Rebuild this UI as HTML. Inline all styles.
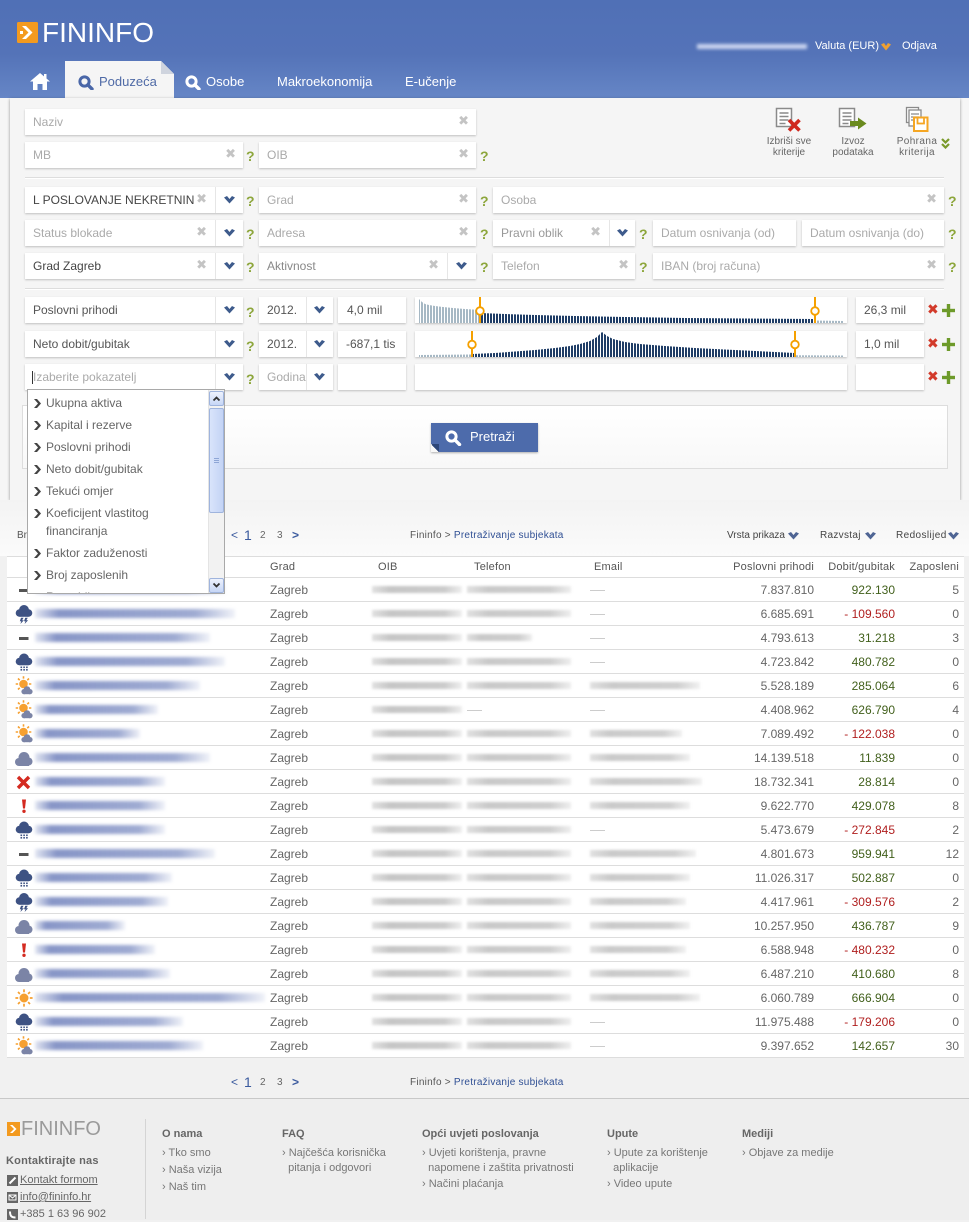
<!DOCTYPE html>
<html><head><meta charset="utf-8">
<style>
*{margin:0;padding:0}
body{width:969px;height:1219px;overflow:hidden;position:relative;background:#f1f1f1;font-family:"Liberation Sans",Arial,sans-serif}
.a{position:absolute}
.t{position:absolute;white-space:nowrap}
.f{position:absolute;height:26px;background:#fff;box-shadow:0 1px 2px rgba(0,0,0,.22);font-size:12px;line-height:27px;color:#aaa;padding-left:8px;box-sizing:border-box;white-space:nowrap;overflow:hidden}
.cx{position:absolute;top:0;font-family:"DejaVu Sans",sans-serif;font-size:13px;color:#c4c4c4;font-weight:bold;line-height:26px}
.dd{position:absolute;right:0;top:0;width:27px;height:26px;border-left:1px solid #e6e6e6;background:#fff}
.dd svg{position:absolute;left:8px;top:9px}
.q{position:absolute;font:bold 14px "Liberation Sans",Arial,sans-serif;color:#8da63c;line-height:20px}
.lbl{position:absolute;font-size:10px;color:#666;line-height:10.5px;text-align:center;white-space:nowrap}
.r{position:absolute;left:7px;width:957px;height:23px;border-bottom:1px solid #ddd;background:#fff;font-size:12px;line-height:24px;color:#666}
.r>*{position:absolute}
.ic{left:8px;top:2px;width:18px;height:20px}
.nm{left:28px;top:7px;height:9px;background:linear-gradient(90deg,rgba(110,130,190,.2),rgba(85,105,175,.7) 12%,rgba(95,115,180,.6) 80%,rgba(110,130,190,.1));filter:blur(1.6px)}
.c{left:263px}
.ob{left:365px;top:8px;width:90px;height:7px;background:linear-gradient(90deg,rgba(180,180,180,.4),#c6c6c6 20%,#cbcbcb 80%,rgba(200,200,200,.3));filter:blur(1.4px)}
.tl{left:460px;top:8px;width:104px;height:7px;background:linear-gradient(90deg,rgba(180,180,180,.4),#c9c9c9 20%,#cecece 80%,rgba(200,200,200,.3));filter:blur(1.4px)}
.em{left:583px;top:8px;width:100px;height:7px;background:linear-gradient(90deg,rgba(180,180,180,.4),#cacaca 20%,#d0d0d0 80%,rgba(200,200,200,.25));filter:blur(1.4px)}
.dsh{left:583px;top:12px;width:15px;height:1px;background:#ccc}
.p{right:150px}
.g{right:69px;color:#42601c}
.n{right:69px;color:#b01f1f}
.z{right:5px}
.hd{position:absolute;font-size:11px;color:#555;letter-spacing:.2px;line-height:21px}
.fh{position:absolute;font:bold 11px "Liberation Sans",Arial,sans-serif;color:#666;line-height:14px;white-space:nowrap}
.fi{position:absolute;font-size:11px;color:#777;line-height:14.5px;white-space:nowrap}
.di{position:absolute;left:6px;font-size:12px;color:#666;line-height:16px;white-space:nowrap}
.di svg{position:absolute;left:0;top:4px}
.di span{position:absolute;left:12px}
</style></head>
<body>
<svg width="0" height="0" style="position:absolute">
<defs>
<symbol id="dash" viewBox="0 0 18 20"><rect x="4" y="9" width="9.5" height="3" fill="#555"/></symbol>
<symbol id="cloud" viewBox="0 0 18 20"><g fill="#7b84a6"><circle cx="9" cy="9.5" r="5.5"/><circle cx="4" cy="14" r="4"/><circle cx="13.5" cy="13.5" r="4"/><rect x="4" y="13" width="10" height="5"/></g></symbol>
<symbol id="rain" viewBox="0 0 18 20"><g fill="#3e5283"><circle cx="9" cy="6.5" r="5"/><circle cx="4.5" cy="9.5" r="3.8"/><circle cx="13.5" cy="9.5" r="3.8"/><rect x="4.5" y="9" width="9" height="4.3"/><rect x="5.5" y="14.5" width="1.6" height="1.6"/><rect x="8.3" y="14.5" width="1.6" height="1.6"/><rect x="11.1" y="14.5" width="1.6" height="1.6"/><rect x="5.5" y="17" width="1.6" height="1.6"/><rect x="8.3" y="17" width="1.6" height="1.6"/><rect x="11.1" y="17" width="1.6" height="1.6"/></g></symbol>
<symbol id="storm" viewBox="0 0 18 20"><g fill="#3e5283"><circle cx="9" cy="6" r="5"/><circle cx="4.5" cy="9" r="3.8"/><circle cx="13.5" cy="9" r="3.8"/><rect x="4.5" y="8.5" width="9" height="4.3"/><polygon points="6,13.8 8.6,13.8 7.1,16.2 8.9,16.2 5.4,20 6.3,17.3 4.8,17.3"/><polygon points="10.2,13.8 12.8,13.8 11.3,16.2 13.1,16.2 9.6,20 10.5,17.3 9,17.3"/></g></symbol>
<symbol id="sun" viewBox="0 0 18 20"><g stroke="#f6a030" stroke-width="1.7"><circle cx="9" cy="10" r="4.5" fill="#f6a030" stroke="none"/><path d="M14.8 10H17.6M13.1 14.1L15 16M9 15.8V18.6M4.9 14.1L3 16M3.2 10H0.4M4.9 5.9L3 4M9 4.2V1.4M13.1 5.9L15 4"/></g></symbol>
<symbol id="sunc" viewBox="0 0 18 20"><g stroke="#f6a030" stroke-width="1.6"><circle cx="8.5" cy="8" r="4.3" fill="#f6a030" stroke="none"/><path d="M13.9 8H16.3M12.3 11.8L14 13.5M8.5 13.4V15.8M4.7 11.8L3 13.5M3.1 8H0.7M4.7 4.2L3 2.5M8.5 2.6V0.2M12.3 4.2L14 2.5"/></g><g fill="#7b84a6"><circle cx="12" cy="13.5" r="3.3"/><circle cx="9" cy="15.6" r="2.6"/><circle cx="15" cy="15.6" r="2.6"/><rect x="9" y="15" width="6" height="3.2"/></g></symbol>
<symbol id="redx" viewBox="0 0 18 20"><path d="M3 5L14 16M14 5L3 16" stroke="#d42a20" stroke-width="3.4"/></symbol>
<symbol id="excl" viewBox="0 0 18 20"><polygon points="7,3.5 11,3.5 10,12.5 8,12.5" fill="#d42a20"/><circle cx="9" cy="15.3" r="1.7" fill="#d42a20"/></symbol>
<symbol id="chev" viewBox="0 0 11 8"><polygon points="0,1.5 3,0 5.5,3 8,0 11,1.5 5.5,7.5" fill="#3e5b8c"/></symbol>
</defs>
</svg>

<!-- header -->
<div class="a" style="left:0;top:0;width:969px;height:98px;background:linear-gradient(#5070b6,#5473b8 55%,#6686c6)"></div>
<svg class="a" style="left:17px;top:22px" width="21" height="21"><rect width="21" height="21" rx="1.5" fill="#f39a1f"/><polygon points="5,4 9,4 15.5,10.5 9,17 5,17 11.5,10.5" fill="#fff"/><rect x="3" y="9" width="3" height="3" fill="#fff"/></svg>
<div class="t" style="left:42px;top:17px;font-size:28px;line-height:32px;color:#fff">FININFO</div>
<div class="a" style="left:697px;top:44px;width:110px;height:5px;background:#c9d4ef;filter:blur(1.5px)"></div>
<div class="t" style="left:815px;top:40px;font-size:11px;line-height:13px;color:#fff">Valuta (EUR)</div>
<svg class="a" style="left:881px;top:43px" width="10" height="8"><polygon points="0,1.5 3,0 5,3 7,0 10,1.5 5,7.5" fill="#f0a030"/></svg>
<div class="t" style="left:902px;top:40px;font-size:11px;line-height:13px;color:#fff">Odjava</div>

<!-- tabs -->
<svg class="a" style="left:30px;top:73px" width="20" height="17"><polygon points="10,0 20,8.5 17,8.5 17,17 12.5,17 12.5,11 7.5,11 7.5,17 3,17 3,8.5 0,8.5" fill="#fff"/><rect x="14" y="1" width="2.5" height="5" fill="#fff"/></svg>
<div class="a" style="left:65px;top:61px;width:109px;height:37px;background:#f5f5f5;clip-path:polygon(0 0,96px 0,109px 13px,109px 100%,0 100%)"></div>
<div class="a" style="left:161px;top:61px;width:13px;height:13px;background:linear-gradient(45deg,#cfd4de 50%,transparent 50%)"></div>
<svg class="a" style="left:78px;top:75px" width="16" height="15"><circle cx="6.5" cy="6.5" r="4.6" fill="none" stroke="#4a67a8" stroke-width="3"/><path d="M9.8 9.8L14 14" stroke="#4a67a8" stroke-width="3.4" stroke-linecap="round"/></svg>
<div class="t" style="left:99px;top:74px;font-size:13px;line-height:16px;color:#4f6aa6">Poduzeća</div>
<svg class="a" style="left:185px;top:75px" width="16" height="15"><circle cx="6.5" cy="6.5" r="4.6" fill="none" stroke="#fff" stroke-width="3"/><path d="M9.8 9.8L14 14" stroke="#fff" stroke-width="3.4" stroke-linecap="round"/></svg>
<div class="t" style="left:206px;top:74px;font-size:13px;line-height:16px;color:#fff">Osobe</div>
<div class="t" style="left:277px;top:74px;font-size:13px;line-height:16px;color:#fff">Makroekonomija</div>
<div class="t" style="left:405px;top:74px;font-size:13px;line-height:16px;color:#fff">E-učenje</div>

<!-- panel -->
<div class="a" style="left:0;top:98px;width:969px;height:402px;background:#f6f6f6"></div>
<div class="a" style="left:10px;top:98px;width:950px;height:402px;background:#f5f5f5;box-shadow:0 1px 3px rgba(0,0,0,.4)"></div>

<div class="f" style="left:25px;top:109px;width:451px">Naziv<b class="cx" style="right:7px">✖</b></div>
<div class="f" style="left:25px;top:142px;width:218px">MB<b class="cx" style="right:7px">✖</b></div>
<div class="q" style="left:246px;top:146px">?</div>
<div class="f" style="left:259px;top:142px;width:217px">OIB<b class="cx" style="right:7px">✖</b></div>
<div class="q" style="left:480px;top:146px">?</div>

<!-- action icons -->
<svg class="a" style="left:775px;top:107px" width="30" height="26"><rect x="1.5" y="1.5" width="15" height="18" fill="#fff" stroke="#8a8a8a" stroke-width="1.5"/><path d="M4.5 6h9M4.5 9.5h9M4.5 13h9M4.5 16.5h6" stroke="#8a8a8a" stroke-width="1.4"/><path d="M14 13L24.5 23.5M24.5 13L14 23.5" stroke="#d0281e" stroke-width="3.6"/></svg>
<div class="lbl" style="left:762px;top:137px;width:54px">Izbriši sve<br>kriterije</div>
<svg class="a" style="left:838px;top:107px" width="30" height="26"><rect x="1.5" y="1.5" width="15" height="18" fill="#fff" stroke="#8a8a8a" stroke-width="1.5"/><path d="M4.5 6h9M4.5 9.5h9M4.5 13h9M4.5 16.5h6" stroke="#8a8a8a" stroke-width="1.4"/><polygon points="12,14 20,14 20,10.5 28.5,16.5 20,22.5 20,19 12,19" fill="#6a8a1e"/></svg>
<div class="lbl" style="left:826px;top:137px;width:54px">Izvoz<br>podataka</div>
<svg class="a" style="left:905px;top:106px" width="26" height="28"><rect x="1.5" y="1.5" width="12" height="15" fill="#fff" stroke="#8a8a8a" stroke-width="1.3"/><rect x="4" y="4" width="12" height="16" fill="#fff" stroke="#8a8a8a" stroke-width="1.3"/><path d="M6 8h8M6 11h8M6 14h5" stroke="#8a8a8a" stroke-width="1.2"/><rect x="9" y="11.5" width="13.5" height="13.5" fill="#fff" stroke="#f5a623" stroke-width="2"/><rect x="12.5" y="11.5" width="6.5" height="6" fill="none" stroke="#f5a623" stroke-width="1.8"/></svg>
<div class="lbl" style="left:890px;top:137px;width:54px;letter-spacing:.4px">Pohrana<br>kriterija</div>
<svg class="a" style="left:941px;top:138px" width="9" height="11"><path d="M1 1L4.5 4.5L8 1M1 6L4.5 9.5L8 6" stroke="#7a9a2a" stroke-width="2.2" fill="none"/></svg>

<div class="a" style="left:25px;top:177px;width:919px;height:1px;background:#ddd;border-bottom:1px solid #fff"></div>

<!-- row A -->
<div class="f" style="left:25px;top:187px;width:218px;color:#444;padding-right:40px">L POSLOVANJE NEKRETNIN<b class="cx" style="right:36px">✖</b><span class="dd"><svg width="11" height="8"><use href="#chev"/></svg></span></div>
<div class="q" style="left:246px;top:191px">?</div>
<div class="f" style="left:259px;top:187px;width:217px">Grad<b class="cx" style="right:7px">✖</b></div>
<div class="q" style="left:480px;top:191px">?</div>
<div class="f" style="left:493px;top:187px;width:451px">Osoba<b class="cx" style="right:7px">✖</b></div>
<div class="q" style="left:948px;top:191px">?</div>

<!-- row B -->
<div class="f" style="left:25px;top:220px;width:218px">Status blokade<b class="cx" style="right:36px">✖</b><span class="dd"><svg width="11" height="8"><use href="#chev"/></svg></span></div>
<div class="q" style="left:246px;top:224px">?</div>
<div class="f" style="left:259px;top:220px;width:217px">Adresa<b class="cx" style="right:7px">✖</b></div>
<div class="q" style="left:480px;top:224px">?</div>
<div class="f" style="left:493px;top:220px;width:142px;color:#999">Pravni oblik<b class="cx" style="right:34px">✖</b><span class="dd" style="width:25px"><svg width="11" height="8" style="left:7px"><use href="#chev"/></svg></span></div>
<div class="q" style="left:639px;top:224px">?</div>
<div class="f" style="left:653px;top:220px;width:143px">Datum osnivanja (od)</div>
<div class="f" style="left:802px;top:220px;width:142px">Datum osnivanja (do)</div>
<div class="q" style="left:948px;top:224px">?</div>

<!-- row C -->
<div class="f" style="left:25px;top:253px;width:218px;color:#444">Grad Zagreb<b class="cx" style="right:36px">✖</b><span class="dd"><svg width="11" height="8"><use href="#chev"/></svg></span></div>
<div class="q" style="left:246px;top:257px">?</div>
<div class="f" style="left:259px;top:253px;width:217px;color:#888">Aktivnost<b class="cx" style="right:37px">✖</b><span class="dd" style="width:28px"><svg width="11" height="8"><use href="#chev"/></svg></span></div>
<div class="q" style="left:480px;top:257px">?</div>
<div class="f" style="left:493px;top:253px;width:142px">Telefon<b class="cx" style="right:6px">✖</b></div>
<div class="q" style="left:639px;top:257px">?</div>
<div class="f" style="left:653px;top:253px;width:291px">IBAN (broj računa)<b class="cx" style="right:7px">✖</b></div>
<div class="q" style="left:948px;top:257px">?</div>

<div class="a" style="left:25px;top:288px;width:919px;height:1px;background:#ddd;border-bottom:1px solid #fff"></div>

<!-- indicator rows -->
<div class="f" style="left:25px;top:297px;width:218px;color:#555">Poslovni prihodi<span class="dd"><svg width="11" height="8"><use href="#chev"/></svg></span></div>
<div class="q" style="left:246px;top:302px">?</div>
<div class="f" style="left:259px;top:297px;width:74px;color:#555">2012.<span class="dd" style="width:26px"><svg width="11" height="8" style="left:7px"><use href="#chev"/></svg></span></div>
<div class="f" style="left:338px;top:297px;width:68px;color:#555;padding-left:9px">4,0 mil</div>
<div class="f" style="left:415px;top:297px;width:432px;padding:0">
<svg width="432" height="26" style="position:absolute;left:0;top:0">
<defs><pattern id="g1" width="3" height="26" patternUnits="userSpaceOnUse"><rect x="2" y="0" width="1" height="26" fill="#fff"/></pattern></defs>
<polygon points="4,26 4,2 7,5 10,7 14,8 20,9 28,10 38,11 50,12 65,13 65,26" fill="#a6b8c4"/>
<polygon points="65,26 65,16 90,17 120,18 160,19 210,20 270,21 330,21.5 399,22 399,26" fill="#1f3d66"/>
<polygon points="399,26 399,23.5 429,24 429,26" fill="#a6b8c4"/>
<rect x="0" y="0" width="432" height="26" fill="url(#g1)"/>
<line x1="65" y1="0" x2="65" y2="26" stroke="#f5a000" stroke-width="2"/>
<circle cx="65" cy="14" r="3.8" fill="#fff" stroke="#f5a000" stroke-width="1.8"/>
<line x1="400" y1="0" x2="400" y2="26" stroke="#f5a000" stroke-width="2"/>
<circle cx="400" cy="14" r="3.8" fill="#fff" stroke="#f5a000" stroke-width="1.8"/>
</svg></div>
<div class="f" style="left:856px;top:297px;width:68px;color:#555">26,3 mil</div>
<div class="t" style="left:927px;top:302px;font:bold 14px 'DejaVu Sans',sans-serif;color:#d23a2a;line-height:16px">✖</div>
<svg class="a" style="left:942px;top:304px" width="13" height="13"><rect x="4.8" y="0" width="3.4" height="13" fill="#6d9a2a"/><rect x="0" y="4.8" width="13" height="3.4" fill="#6d9a2a"/></svg>

<div class="f" style="left:25px;top:331px;width:218px;color:#555">Neto dobit/gubitak<span class="dd"><svg width="11" height="8"><use href="#chev"/></svg></span></div>
<div class="q" style="left:246px;top:336px">?</div>
<div class="f" style="left:259px;top:331px;width:74px;color:#555">2012.<span class="dd" style="width:26px"><svg width="11" height="8" style="left:7px"><use href="#chev"/></svg></span></div>
<div class="f" style="left:338px;top:331px;width:68px;color:#555;padding-left:8px">-687,1 tis</div>
<div class="f" style="left:415px;top:331px;width:432px;padding:0">
<svg width="432" height="26" style="position:absolute;left:0;top:0">
<defs><pattern id="g2" width="3" height="26" patternUnits="userSpaceOnUse"><rect x="2" y="0" width="1" height="26" fill="#fff"/></pattern></defs>
<polygon points="4,26 4,24 57,23.5 57,26" fill="#a6b8c4"/>
<polygon points="57,26 57,23 80,22 100,20.5 120,19 140,17 155,15 165,13 175,10 182,6 187,1 192,5 198,8 210,11 225,13 250,15 280,17 320,19 350,20.5 380,22 380,26" fill="#1f3d66"/>
<polygon points="380,26 380,24.3 429,24.5 429,26" fill="#a6b8c4"/>
<rect x="0" y="0" width="432" height="26" fill="url(#g2)"/>
<line x1="57" y1="0" x2="57" y2="26" stroke="#f5a000" stroke-width="2"/>
<circle cx="57" cy="13.5" r="3.8" fill="#fff" stroke="#f5a000" stroke-width="1.8"/>
<line x1="380" y1="0" x2="380" y2="26" stroke="#f5a000" stroke-width="2"/>
<circle cx="380" cy="13.5" r="3.8" fill="#fff" stroke="#f5a000" stroke-width="1.8"/>
</svg></div>
<div class="f" style="left:856px;top:331px;width:68px;color:#555">1,0 mil</div>
<div class="t" style="left:927px;top:336px;font:bold 14px 'DejaVu Sans',sans-serif;color:#d23a2a;line-height:16px">✖</div>
<svg class="a" style="left:942px;top:338px" width="13" height="13"><rect x="4.8" y="0" width="3.4" height="13" fill="#6d9a2a"/><rect x="0" y="4.8" width="13" height="3.4" fill="#6d9a2a"/></svg>

<div class="f" style="left:25px;top:364px;width:218px">Izaberite pokazatelj<span class="a" style="left:7px;top:7px;width:1px;height:13px;background:#333"></span><span class="dd"><svg width="11" height="8"><use href="#chev"/></svg></span></div>
<div class="q" style="left:246px;top:369px">?</div>
<div class="f" style="left:259px;top:364px;width:74px">Godina<span class="dd" style="width:26px"><svg width="11" height="8" style="left:7px"><use href="#chev"/></svg></span></div>
<div class="f" style="left:338px;top:364px;width:68px"></div>
<div class="f" style="left:415px;top:364px;width:432px"></div>
<div class="f" style="left:856px;top:364px;width:68px"></div>
<div class="t" style="left:927px;top:369px;font:bold 14px 'DejaVu Sans',sans-serif;color:#d23a2a;line-height:16px">✖</div>
<svg class="a" style="left:942px;top:371px" width="13" height="13"><rect x="4.8" y="0" width="3.4" height="13" fill="#6d9a2a"/><rect x="0" y="4.8" width="13" height="3.4" fill="#6d9a2a"/></svg>

<!-- search box -->
<div class="a" style="left:22px;top:405px;width:926px;height:64px;border:1px solid #ddd;box-sizing:border-box;background:linear-gradient(#fff,#f8f8f8)"></div>
<div class="a" style="left:431px;top:423px;width:107px;height:29px;background:#4d6bab;box-shadow:0 1px 2px rgba(0,0,0,.3)"></div>
<div class="a" style="left:431px;top:444px;width:8px;height:8px;background:linear-gradient(45deg,#f8f8f8 50%,#2d4678 50%)"></div>
<svg class="a" style="left:445px;top:430px" width="17" height="16"><circle cx="6.5" cy="6.5" r="4.6" fill="none" stroke="#fff" stroke-width="3"/><path d="M9.8 9.8L14.5 14.5" stroke="#fff" stroke-width="3.4" stroke-linecap="round"/></svg>
<div class="t" style="left:470px;top:429px;font-size:13px;line-height:16px;color:#fff">Pretraži</div>

<!-- below panel -->
<div class="a" style="left:0;top:500px;width:969px;height:56px;background:linear-gradient(#f3f3f3,#fbfbfb)"></div>
<div class="t" style="left:17px;top:530px;font-size:10px;line-height:12px;color:#555">Br</div>
<div class="t" style="left:231px;top:528px;font-size:12px;line-height:14px;color:#3a5a9e">&lt;</div>
<div class="t" style="left:244px;top:527px;font-size:14px;line-height:16px;color:#3a5a9e">1</div>
<div class="t" style="left:260px;top:530px;font-size:10px;line-height:12px;color:#666">2</div>
<div class="t" style="left:277px;top:530px;font-size:10px;line-height:12px;color:#666">3</div>
<div class="t" style="left:292px;top:528px;font-size:12px;line-height:14px;color:#3a5a9e;font-weight:bold">&gt;</div>
<div class="t" style="left:410px;top:530px;font-size:10px;line-height:12px;color:#555;letter-spacing:.25px">Fininfo &gt; <span style="color:#2f4f94">Pretraživanje subjekata</span></div>
<div class="t" style="left:727px;top:530px;font-size:10px;line-height:12px;color:#444">Vrsta prikaza</div>
<svg class="a" style="left:788px;top:532px" width="11" height="8"><polygon points="0,1.5 3,0 5.5,3 8,0 11,1.5 5.5,7.5" fill="#4f6594"/></svg>
<div class="t" style="left:820px;top:530px;font-size:10px;line-height:12px;color:#444;letter-spacing:.3px">Razvstaj</div>
<svg class="a" style="left:865px;top:532px" width="11" height="8"><polygon points="0,1.5 3,0 5.5,3 8,0 11,1.5 5.5,7.5" fill="#4f6594"/></svg>
<div class="t" style="left:896px;top:530px;font-size:10px;line-height:12px;color:#444;letter-spacing:.4px">Redoslijed</div>
<svg class="a" style="left:948px;top:532px" width="11" height="8"><polygon points="0,1.5 3,0 5.5,3 8,0 11,1.5 5.5,7.5" fill="#4f6594"/></svg>

<!-- table header -->
<div class="a" style="left:7px;top:556px;width:957px;height:20px;border-top:1px solid #ddd;border-bottom:1px solid #ddd;background:#fff">
<span class="hd" style="left:263px">Grad</span>
<span class="hd" style="left:371px">OIB</span>
<span class="hd" style="left:467px">Telefon</span>
<span class="hd" style="left:587px">Email</span>
<span class="hd" style="right:150px">Poslovni prihodi</span>
<span class="hd" style="right:69px">Dobit/gubitak</span>
<span class="hd" style="right:5px">Zaposleni</span>
</div>

<!-- rows -->
<div class="r" style="top:578px"><svg class="ic"><use href="#dash"/></svg><i class="nm" style="width:190px"></i><span class="c">Zagreb</span><i class="ob"></i><i class="tl"></i><i class="dsh"></i><span class="p">7.837.810</span><span class="g">922.130</span><span class="z">5</span></div>
<div class="r" style="top:602px"><svg class="ic"><use href="#storm"/></svg><i class="nm" style="width:200px"></i><span class="c">Zagreb</span><i class="ob"></i><i class="tl"></i><i class="dsh"></i><span class="p">6.685.691</span><span class="n">- 109.560</span><span class="z">0</span></div>
<div class="r" style="top:626px"><svg class="ic"><use href="#dash"/></svg><i class="nm" style="width:175px"></i><span class="c">Zagreb</span><i class="ob"></i><i class="tl" style="width:65px"></i><i class="dsh"></i><span class="p">4.793.613</span><span class="g">31.218</span><span class="z">3</span></div>
<div class="r" style="top:650px"><svg class="ic"><use href="#rain"/></svg><i class="nm" style="width:190px"></i><span class="c">Zagreb</span><i class="ob"></i><i class="tl"></i><i class="dsh"></i><span class="p">4.723.842</span><span class="g">480.782</span><span class="z">0</span></div>
<div class="r" style="top:674px"><svg class="ic"><use href="#sunc"/></svg><i class="nm" style="width:165px"></i><span class="c">Zagreb</span><i class="ob"></i><i class="tl"></i><i class="em" style="width:110px"></i><span class="p">5.528.189</span><span class="g">285.064</span><span class="z">6</span></div>
<div class="r" style="top:698px"><svg class="ic"><use href="#sunc"/></svg><i class="nm" style="width:123px"></i><span class="c">Zagreb</span><i class="ob"></i><i class="dsh" style="left:460px"></i><i class="dsh"></i><span class="p">4.408.962</span><span class="g">626.790</span><span class="z">4</span></div>
<div class="r" style="top:722px"><svg class="ic"><use href="#sunc"/></svg><i class="nm" style="width:105px"></i><span class="c">Zagreb</span><i class="ob"></i><i class="tl"></i><i class="em" style="width:92px"></i><span class="p">7.089.492</span><span class="n">- 122.038</span><span class="z">0</span></div>
<div class="r" style="top:746px"><svg class="ic"><use href="#cloud"/></svg><i class="nm" style="width:175px"></i><span class="c">Zagreb</span><i class="ob"></i><i class="tl"></i><i class="em"></i><span class="p">14.139.518</span><span class="g">11.839</span><span class="z">0</span></div>
<div class="r" style="top:770px"><svg class="ic"><use href="#redx"/></svg><i class="nm" style="width:130px"></i><span class="c">Zagreb</span><i class="ob"></i><i class="tl"></i><i class="em" style="width:112px"></i><span class="p">18.732.341</span><span class="g">28.814</span><span class="z">0</span></div>
<div class="r" style="top:794px"><svg class="ic"><use href="#excl"/></svg><i class="nm" style="width:130px"></i><span class="c">Zagreb</span><i class="ob"></i><i class="tl"></i><i class="em"></i><span class="p">9.622.770</span><span class="g">429.078</span><span class="z">8</span></div>
<div class="r" style="top:818px"><svg class="ic"><use href="#rain"/></svg><i class="nm" style="width:130px"></i><span class="c">Zagreb</span><i class="ob"></i><i class="tl"></i><i class="dsh"></i><span class="p">5.473.679</span><span class="n">- 272.845</span><span class="z">2</span></div>
<div class="r" style="top:842px"><svg class="ic"><use href="#dash"/></svg><i class="nm" style="width:180px"></i><span class="c">Zagreb</span><i class="ob"></i><i class="tl"></i><i class="em" style="width:106px"></i><span class="p">4.801.673</span><span class="g">959.941</span><span class="z">12</span></div>
<div class="r" style="top:866px"><svg class="ic"><use href="#rain"/></svg><i class="nm" style="width:137px"></i><span class="c">Zagreb</span><i class="ob"></i><i class="tl"></i><i class="em"></i><span class="p">11.026.317</span><span class="g">502.887</span><span class="z">0</span></div>
<div class="r" style="top:890px"><svg class="ic"><use href="#storm"/></svg><i class="nm" style="width:133px"></i><span class="c">Zagreb</span><i class="ob"></i><i class="tl"></i><i class="em" style="width:96px"></i><span class="p">4.417.961</span><span class="n">- 309.576</span><span class="z">2</span></div>
<div class="r" style="top:914px"><svg class="ic"><use href="#cloud"/></svg><i class="nm" style="width:90px"></i><span class="c">Zagreb</span><i class="ob"></i><i class="tl"></i><i class="em"></i><span class="p">10.257.950</span><span class="g">436.787</span><span class="z">9</span></div>
<div class="r" style="top:938px"><svg class="ic"><use href="#excl"/></svg><i class="nm" style="width:120px"></i><span class="c">Zagreb</span><i class="ob"></i><i class="tl"></i><i class="em" style="width:96px"></i><span class="p">6.588.948</span><span class="n">- 480.232</span><span class="z">0</span></div>
<div class="r" style="top:962px"><svg class="ic"><use href="#cloud"/></svg><i class="nm" style="width:135px"></i><span class="c">Zagreb</span><i class="ob"></i><i class="tl"></i><i class="em"></i><span class="p">6.487.210</span><span class="g">410.680</span><span class="z">8</span></div>
<div class="r" style="top:986px"><svg class="ic"><use href="#sun"/></svg><i class="nm" style="width:230px"></i><span class="c">Zagreb</span><i class="ob"></i><i class="tl"></i><i class="em" style="width:110px"></i><span class="p">6.060.789</span><span class="g">666.904</span><span class="z">0</span></div>
<div class="r" style="top:1010px"><svg class="ic"><use href="#rain"/></svg><i class="nm" style="width:148px"></i><span class="c">Zagreb</span><i class="ob"></i><i class="tl"></i><i class="dsh"></i><span class="p">11.975.488</span><span class="n">- 179.206</span><span class="z">0</span></div>
<div class="r" style="top:1034px"><svg class="ic"><use href="#sunc"/></svg><i class="nm" style="width:168px"></i><span class="c">Zagreb</span><i class="ob"></i><i class="tl"></i><i class="dsh"></i><span class="p">9.397.652</span><span class="g">142.657</span><span class="z">30</span></div>

<!-- dropdown list -->
<div class="a" style="left:27px;top:389px;width:198px;height:205px;background:#fff;border:1px solid #a9a9a9;box-sizing:border-box;overflow:hidden">
<div class="di" style="top:5px"><svg width="7" height="9"><polygon points="0,0 3,0 7,4.5 3,9 0,9 4,4.5" fill="#444"/></svg><span>Ukupna aktiva</span></div>
<div class="di" style="top:27px"><svg width="7" height="9"><polygon points="0,0 3,0 7,4.5 3,9 0,9 4,4.5" fill="#444"/></svg><span>Kapital i rezerve</span></div>
<div class="di" style="top:49px"><svg width="7" height="9"><polygon points="0,0 3,0 7,4.5 3,9 0,9 4,4.5" fill="#444"/></svg><span>Poslovni prihodi</span></div>
<div class="di" style="top:71px"><svg width="7" height="9"><polygon points="0,0 3,0 7,4.5 3,9 0,9 4,4.5" fill="#444"/></svg><span>Neto dobit/gubitak</span></div>
<div class="di" style="top:93px"><svg width="7" height="9"><polygon points="0,0 3,0 7,4.5 3,9 0,9 4,4.5" fill="#444"/></svg><span>Tekući omjer</span></div>
<div class="di" style="top:115px"><svg width="7" height="9"><polygon points="0,0 3,0 7,4.5 3,9 0,9 4,4.5" fill="#444"/></svg><span>Koeficijent vlastitog</span></div>
<div class="di" style="top:133px"><span>financiranja</span></div>
<div class="di" style="top:155px"><svg width="7" height="9"><polygon points="0,0 3,0 7,4.5 3,9 0,9 4,4.5" fill="#444"/></svg><span>Faktor zaduženosti</span></div>
<div class="di" style="top:177px"><svg width="7" height="9"><polygon points="0,0 3,0 7,4.5 3,9 0,9 4,4.5" fill="#444"/></svg><span>Broj zaposlenih</span></div>
<div class="di" style="top:199px"><svg width="7" height="9"><polygon points="0,0 3,0 7,4.5 3,9 0,9 4,4.5" fill="#444"/></svg><span>Rentabilnost</span></div>
<div class="a" style="left:180px;top:0;width:17px;height:203px;background:#f2f2f2;border-left:1px solid #e4e4e4"></div>
<div class="a" style="left:181px;top:1px;width:15px;height:15px;box-sizing:border-box;border:1px solid #9fb4dd;border-radius:2px;background:linear-gradient(#edf2fd,#c6d6f6)"><svg width="13" height="13" style="position:absolute;left:0;top:0"><path d="M3.5 8.5L6.5 5.5L9.5 8.5" stroke="#333" stroke-width="1.8" fill="none"/></svg></div>
<div class="a" style="left:181px;top:18px;width:15px;height:105px;box-sizing:border-box;border:1px solid #9fb4dd;border-radius:2px;background:linear-gradient(90deg,#d9e4fb,#c3d3f5)"><div class="a" style="left:4px;top:49px;width:5px;height:1px;background:#8ea6d6;box-shadow:0 2px 0 #8ea6d6,0 4px 0 #8ea6d6"></div></div>
<div class="a" style="left:181px;top:188px;width:15px;height:15px;box-sizing:border-box;border:1px solid #9fb4dd;border-radius:2px;background:linear-gradient(#edf2fd,#c6d6f6)"><svg width="13" height="13" style="position:absolute;left:0;top:0"><path d="M3.5 4.5L6.5 7.5L9.5 4.5" stroke="#333" stroke-width="1.8" fill="none"/></svg></div>
</div>

<!-- bottom pagination -->
<div class="t" style="left:231px;top:1075px;font-size:12px;line-height:14px;color:#3a5a9e">&lt;</div>
<div class="t" style="left:244px;top:1074px;font-size:14px;line-height:16px;color:#3a5a9e">1</div>
<div class="t" style="left:260px;top:1077px;font-size:10px;line-height:12px;color:#666">2</div>
<div class="t" style="left:277px;top:1077px;font-size:10px;line-height:12px;color:#666">3</div>
<div class="t" style="left:292px;top:1075px;font-size:12px;line-height:14px;color:#3a5a9e;font-weight:bold">&gt;</div>
<div class="t" style="left:410px;top:1077px;font-size:10px;line-height:12px;color:#555;letter-spacing:.25px">Fininfo &gt; <span style="color:#2f4f94">Pretraživanje subjekata</span></div>

<!-- footer -->
<div class="a" style="left:0;top:1098px;width:969px;height:121px;background:#eeeeee;border-top:1px solid #c8c8c8"></div>
<svg class="a" style="left:7px;top:1122px" width="13" height="14"><rect width="13" height="14" fill="#f39a1f"/><polygon points="3,3 5.5,3 9.5,7 5.5,11 3,11 7,7" fill="#fff"/></svg>
<div class="t" style="left:21px;top:1118px;font-size:20px;line-height:22px;color:#9a9a9a">FININFO</div>
<div class="a" style="left:145px;top:1119px;width:1px;height:100px;background:#d4d4d4"></div>
<div class="fh" style="left:6px;top:1154px;letter-spacing:.2px">Kontaktirajte nas</div>
<svg class="a" style="left:7px;top:1175px" width="11" height="11"><rect width="11" height="11" fill="#666"/><path d="M2.5 8.5L8.5 2.5" stroke="#fff" stroke-width="2"/></svg>
<div class="fi" style="left:20px;top:1173px;text-decoration:underline;color:#666">Kontakt formom</div>
<svg class="a" style="left:7px;top:1192px" width="11" height="11"><rect width="11" height="11" fill="#666"/><rect x="2" y="3" width="7" height="5" fill="none" stroke="#fff" stroke-width="1"/><path d="M2 3L5.5 6L9 3" stroke="#fff" stroke-width="1" fill="none"/></svg>
<div class="fi" style="left:20px;top:1190px;text-decoration:underline;color:#666">info@fininfo.hr</div>
<svg class="a" style="left:7px;top:1209px" width="11" height="11"><rect width="11" height="11" fill="#666"/><path d="M3 2.5C3 7 4.5 8.5 8.5 8.5" stroke="#fff" stroke-width="2" fill="none"/></svg>
<div class="fi" style="left:20px;top:1207px;color:#666">+385 1 63 96 902</div>

<div class="fh" style="left:162px;top:1127px">O nama</div>
<div class="fi" style="left:162px;top:1146px">› Tko smo</div>
<div class="fi" style="left:162px;top:1163px">› Naša vizija</div>
<div class="fi" style="left:162px;top:1180px">› Naš tim</div>

<div class="fh" style="left:282px;top:1127px">FAQ</div>
<div class="fi" style="left:282px;top:1146px">› Najčešća korisnička<br>&nbsp;&nbsp;pitanja i odgovori</div>

<div class="fh" style="left:422px;top:1127px">Opći uvjeti poslovanja</div>
<div class="fi" style="left:422px;top:1146px">› Uvjeti korištenja, pravne<br>&nbsp;&nbsp;napomene i zaštita privatnosti</div>
<div class="fi" style="left:422px;top:1177px">› Načini plaćanja</div>

<div class="fh" style="left:607px;top:1127px">Upute</div>
<div class="fi" style="left:607px;top:1146px">› Upute za korištenje<br>&nbsp;&nbsp;aplikacije</div>
<div class="fi" style="left:607px;top:1177px">› Video upute</div>

<div class="fh" style="left:742px;top:1127px">Mediji</div>
<div class="fi" style="left:742px;top:1146px">› Objave za medije</div>
</body></html>
